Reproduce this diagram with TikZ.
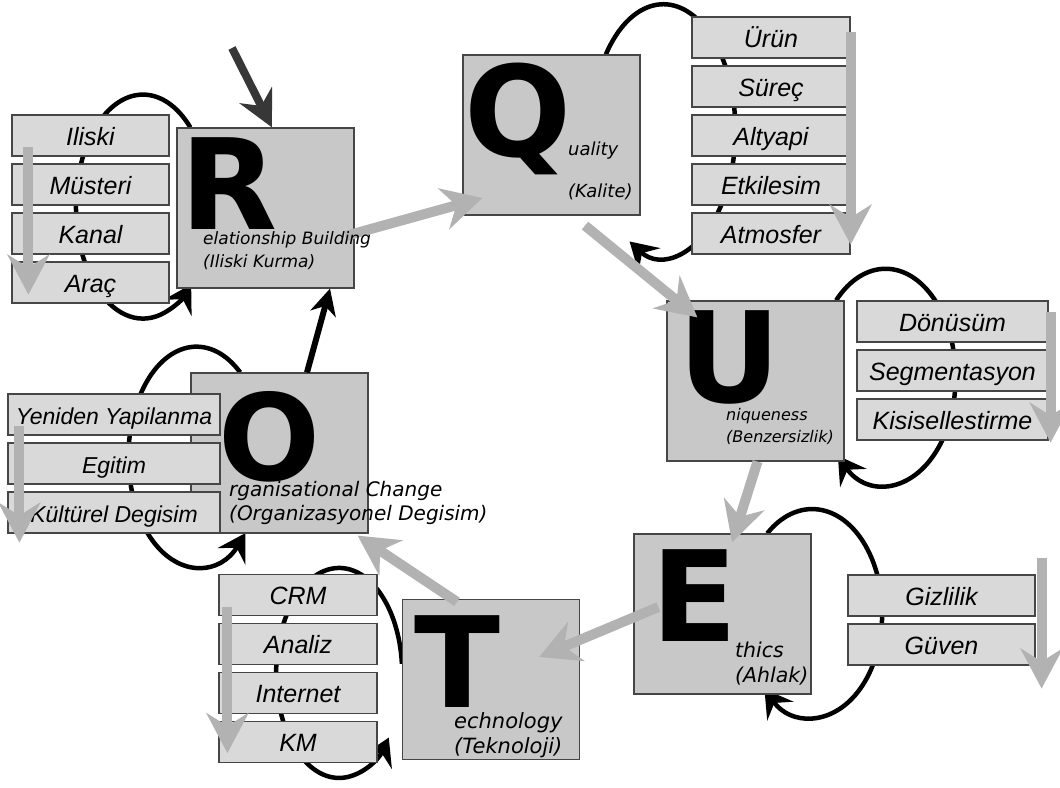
\documentclass[tikz,border=0pt]{standalone}
\usepackage{fontspec}
\setmainfont{Liberation Sans}
\newfontfamily\letterfamily{DejaVu Sans}
\newfontfamily\descfamily{DejaVu Sans}
\usetikzlibrary{arrows.meta,positioning}
\pgfdeclarelayer{background}
\pgfsetlayers{background,main}
\definecolor{bigfill}{RGB}{200,200,200}
\definecolor{itemfill}{RGB}{217,217,217}
\definecolor{boxline}{RGB}{70,70,70}
\definecolor{arrowgray}{RGB}{178,178,178}
\definecolor{darkarrow}{RGB}{55,55,55}
\newcommand\descfont[2]{\descfamily\itshape\fontsize{#1}{#2}\selectfont}

\begin{document}
\begin{tikzpicture}[x=1pt,y=1pt,node distance=49pt,
    bigbox/.style={rectangle,draw=boxline,fill=bigfill,line width=1.2pt,
      minimum width=177pt,minimum height=160pt,inner sep=0pt},
    item/.style={rectangle,draw=boxline,fill=itemfill,line width=1.2pt,
      minimum width=#1,minimum height=41pt,inner sep=0pt,text height=20pt,
      text depth=1pt,font=\itshape\fontsize{25}{30}\selectfont},
    letter/.style={anchor=base west,inner sep=0pt,text depth=0pt,
      font=\letterfamily\bfseries\fontsize{126}{130}\selectfont},
    desc/.style={anchor=north west,inner sep=0pt,align=left},
    feedback/.style={line width=4.5pt,-{Stealth[length=27pt,width=32pt,inset=10pt]}},
    grayflow/.style={draw=arrowgray,line width=10pt,
      -{Stealth[length=40pt,width=42pt,inset=13pt]}},
    blackflow/.style={line width=6pt,-{Stealth[length=26pt,width=26pt,inset=8pt]}},
    entryarrow/.style={draw=darkarrow,line width=8pt,
      -{Stealth[length=36pt,width=36pt,inset=12pt]}}]

  \useasboundingbox (0,0) rectangle (1060,-787);

  % the six main blocks
  \node[bigbox] (R) at (265.5,-208) {};
  \node[bigbox] (Q) at (551.5,-135) {};
  \node[bigbox] (U) at (755.5,-381) {};
  \node[bigbox] (E) at (722.5,-614) {};
  \node[bigbox] (T) at (491,-679.5) {};
  \node[bigbox] (O) at (279.5,-453) {};

  \node[letter] (Rl) at (180.5,-229) {R};
  \node[letter] (Ql) at (464,-156) {Q};
  \node[letter] (Ul) at (678,-402) {U};
  \node[letter] (El) at (651.5,-641) {E};
  \node[letter] (Tl) at (414,-707) {T};
  \node[letter, font=\letterfamily\bfseries\fontsize{120}{124}\selectfont] (Ol) at (218,-480) {O};

  % R list
  \node[item=157pt] (ri1) at (90.5,-135.5) {Iliski};
  \node[item=157pt, below of=ri1] (ri2) {Müsteri};
  \node[item=157pt, below of=ri2] (ri3) {Kanal};
  \node[item=157pt, below of=ri3] (ri4) {Araç};

  % Q list
  \node[item=158pt] (qi1) at (771,-37.5) {Ürün};
  \node[item=158pt, below of=qi1] (qi2) {Süreç};
  \node[item=158pt, below of=qi2] (qi3) {Altyapi};
  \node[item=158pt, below of=qi3] (qi4) {Etkilesim};
  \node[item=158pt, below of=qi4] (qi5) {Atmosfer};

  % U list
  \node[item=191pt] (ui1) at (952.5,-321.5) {Dönüsüm};
  \node[item=191pt, below of=ui1] (ui2) {Segmentasyon};
  \node[item=191pt, below of=ui2] (ui3) {Kisisellestirme};

  % E list
  \node[item=187pt] (ei1) at (941.5,-595.5) {Gizlilik};
  \node[item=187pt, below of=ei1] (ei2) {Güven};

  % T list
  \node[item=158pt] (ti1) at (298,-595) {CRM};
  \node[item=158pt, below of=ti1] (ti2) {Analiz};
  \node[item=158pt, below of=ti2] (ti3) {Internet};
  \node[item=158pt, below of=ti3] (ti4) {KM};

  % O list
  \node[item=212pt, font=\itshape\fontsize{23}{28}\selectfont] (oi1) at (114,-414.5) {Yeniden Yapilanma};
  \node[item=212pt, font=\itshape\fontsize{23}{28}\selectfont, below of=oi1] (oi2) {Egitim};
  \node[item=212pt, font=\itshape\fontsize{23}{28}\selectfont, below of=oi2] (oi3) {Kültürel Degisim};

  % loops behind the lists
  \begin{pgfonlayer}{background}
    \draw[feedback] (R.133) arc[start angle=45, end angle=316, x radius=67pt, y radius=112pt];
    \draw[feedback] (Q.56) arc[start angle=143, end angle=-118, x radius=72pt, y radius=126pt];
    \draw[feedback] (U.45) arc[start angle=135, end angle=-133, x radius=70pt, y radius=108pt];
    \draw[feedback] (E.61) arc[start angle=130, end angle=-133, x radius=70pt, y radius=104pt];
    \draw[feedback] (T.170) arc[start angle=5, end angle=322, x radius=63pt, y radius=105pt];
    \draw[feedback] (O.116) arc[start angle=50, end angle=316, x radius=68pt, y radius=110pt];
  \end{pgfonlayer}

  % down arrows over the lists
  \draw[grayflow] ([xshift=17pt,yshift=-33pt]ri1.north west) -- ([xshift=17pt,yshift=9pt]ri4.south west);
  \draw[grayflow] ([yshift=-16pt]qi1.north east) -- ([yshift=10pt]qi5.south east);
  \draw[grayflow] ([xshift=2pt,yshift=-12pt]ui1.north east) -- ([xshift=2pt,yshift=-2pt]ui3.south east);
  \draw[grayflow] ([xshift=6pt,yshift=16pt]ei1.north east) -- ([xshift=6pt,yshift=-23pt]ei2.south east);
  \draw[grayflow] ([xshift=9pt,yshift=-33pt]ti1.north west) -- ([xshift=9pt,yshift=10pt]ti4.south west);
  \draw[grayflow] ([xshift=12pt,yshift=-33pt]oi1.north west) -- ([xshift=12pt,yshift=-9pt]oi3.south west);

  % the big circle R Q U E T O
  \draw[grayflow] ([xshift=-9pt,yshift=-28pt]R.east) -- ([xshift=20pt,yshift=-63pt]Q.west);
  \draw[grayflow] ([xshift=33.5pt,yshift=-10pt]Q.south) -- ([xshift=31pt,yshift=-17pt]U.north west);
  \draw[grayflow] ([xshift=2pt]U.south) -- ([xshift=9.5pt,yshift=-9pt]E.north);
  \draw[grayflow] ([xshift=25pt,yshift=7pt]E.west) -- ([xshift=-41pt,yshift=22.5pt]T.east);
  \draw[grayflow] ([xshift=-34pt,yshift=-3pt]T.north) -- ([xshift=-11pt,yshift=-2pt]O.south east);
  \draw[blackflow] ([xshift=27.5pt]O.north) -- ([xshift=64.5pt]R.south);

  \coordinate (entry) at (232,-48);
  \draw[entryarrow] (entry) -- ([xshift=6.5pt]R.north);

  % block texts
  \node[desc, font=\descfont{17}{23}] (Rd) at (203,-231) {elationship Building\\(Iliski Kurma)};
  \node[desc, font=\descfont{18}{42}] (Qd) at (568,-141.3) {uality\\(Kalite)};
  \node[desc, font=\descfont{16}{22}] (Ud) at (726,-407.8) {niqueness\\(Benzersizlik)};
  \node[desc, font=\descfont{20.5}{25}] (Ed) at (735,-642) {thics\\(Ahlak)};
  \node[desc, font=\descfont{21}{25}] (Td) at (454,-712) {echnology\\(Teknoloji)};
  \node[desc, font=\descfont{20}{24}] (Od) at (229,-481) {rganisational Change\\(Organizasyonel Degisim)};

\end{tikzpicture}
\end{document}
